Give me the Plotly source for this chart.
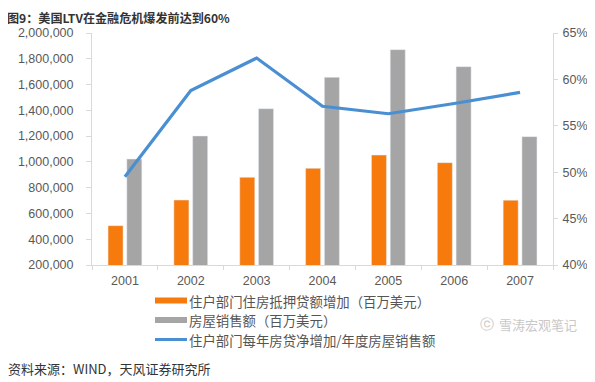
import plotly.graph_objects as go

years = ["2001", "2002", "2003", "2004", "2005", "2006", "2007"]
mortgage_increase = [505000, 704000, 880000, 950000, 1053000, 994000, 703000]
home_sales = [1022000, 1201000, 1413000, 1656000, 1871000, 1739000, 1196000]
ltv_ratio = [49.5, 58.8, 62.3, 57.1, 56.3, 57.4, 58.6]

left_ticks = [200000, 400000, 600000, 800000, 1000000, 1200000, 1400000, 1600000, 1800000, 2000000]
right_ticks = [40, 45, 50, 55, 60, 65]

name_mort = "住户部门住房抵押贷额增加（百万美元）"
name_sales = "房屋销售额（百万美元）"
name_ltv = "住户部门每年房贷净增加/年度房屋销售额"

ORANGE = "#F77A0C"
GRAY = "#A5A5A5"
BLUE = "#4A8FD2"
AXIS = "#D9D9D9"
TICKTXT = "#595959"

# page body has an 8px margin; size figure so page positions match the reference
OFF = 8
W, H = 595 - OFF, 382 - OFF
PL, PR, PT, PB = 92, 553, 33, 265  # plot area in page pixels


def px(x):
    return (x - PL) / (PR - PL)


def py(y):
    return (PB - y) / (PB - PT)


fig = go.Figure()
fig.add_trace(go.Bar(x=years, y=mortgage_increase, name=name_mort, marker_color=ORANGE,
                     showlegend=False))
fig.add_trace(go.Bar(x=years, y=home_sales, name=name_sales, marker_color=GRAY,
                     showlegend=False))
fig.add_trace(go.Scatter(x=years, y=ltv_ratio, name=name_ltv, mode="lines",
                         line=dict(color=BLUE, width=3.2), yaxis="y2", showlegend=False))

fig.update_layout(
    width=W, height=H,
    margin=dict(l=PL - OFF, r=W - (PR - OFF), t=PT - OFF, b=H - (PB - OFF), autoexpand=False),
    paper_bgcolor="white", plot_bgcolor="white",
    barmode="group", bargap=0.43, bargroupgap=0.2,
    font=dict(family="Liberation Sans, Arial, sans-serif", size=12, color=TICKTXT),
    xaxis=dict(showline=True, linecolor=AXIS, linewidth=1, ticks="outside",
               tickson="boundaries", tickcolor=AXIS, ticklen=4, ticklabelstandoff=4,
               showgrid=False, tickfont=dict(size=12.5, color=TICKTXT)),
    yaxis=dict(range=[200000, 2000000], tickvals=left_ticks,
               ticktext=[f"{v:,}" for v in left_ticks],
               showline=True, linecolor=AXIS, ticks="outside", tickcolor=AXIS, ticklen=5,
               ticklabelstandoff=10,
               showgrid=False, zeroline=False, tickfont=dict(size=12.5, color=TICKTXT)),
    yaxis2=dict(range=[40, 65], tickvals=right_ticks,
                ticktext=[f"{v}%" for v in right_ticks],
                overlaying="y", side="right",
                showline=True, linecolor=AXIS, ticks="outside", tickcolor=AXIS, ticklen=4,
                ticklabelstandoff=2,
                showgrid=False, zeroline=False, tickfont=dict(size=12.5, color=TICKTXT)),
)

# Custom legend: symbols as shapes, texts as annotations
legend_rows = [(name_mort, ORANGE, 300.5, 6), (name_sales, GRAY, 320, 6), (name_ltv, BLUE, 339.5, 3)]
for text, col, ypx, th in legend_rows:
    fig.add_shape(type="rect", xref="paper", yref="paper",
                  x0=px(155), x1=px(187), y0=py(ypx + th / 2), y1=py(ypx - th / 2),
                  line_width=0, fillcolor=col)
    fig.add_annotation(xref="paper", yref="paper", x=px(188), y=py(ypx),
                       xanchor="left", yanchor="middle", align="left", showarrow=False,
                       text=text, borderpad=0,
                       font=dict(family="Noto Sans CJK SC", size=13.4, color="#555555"))

# Title (anchored to the very top of the figure so it is not clipped)
fig.add_annotation(xref="paper", yref="paper", x=px(6), y=py(OFF),
                   xanchor="left", yanchor="top", showarrow=False, borderpad=0,
                   text="<b>图9：美国LTV在金融危机爆发前达到60%</b>",
                   font=dict(family="Noto Sans CJK SC", size=12.1, color="#333333"))
# Source
fig.add_annotation(xref="paper", yref="paper", x=px(6), y=py(368),
                   xanchor="left", yanchor="middle", showarrow=False,
                   text="资料来源：WIND，天风证券研究所",
                   font=dict(family="Noto Sans CJK SC", size=13, color="#333333"))
# Watermark
fig.add_annotation(xref="paper", yref="paper", x=px(497), y=py(324),
                   xanchor="left", yanchor="middle", showarrow=False,
                   text="雪涛宏观笔记",
                   font=dict(family="Noto Sans CJK SC", size=13, color="#C8C8C8"))
fig.add_annotation(xref="paper", yref="paper", x=px(478), y=py(324),
                   xanchor="left", yanchor="middle", showarrow=False,
                   text="ⓒ",
                   font=dict(family="DejaVu Sans", size=14, color="#C8C8C8"))

fig.write_html("out.html")
